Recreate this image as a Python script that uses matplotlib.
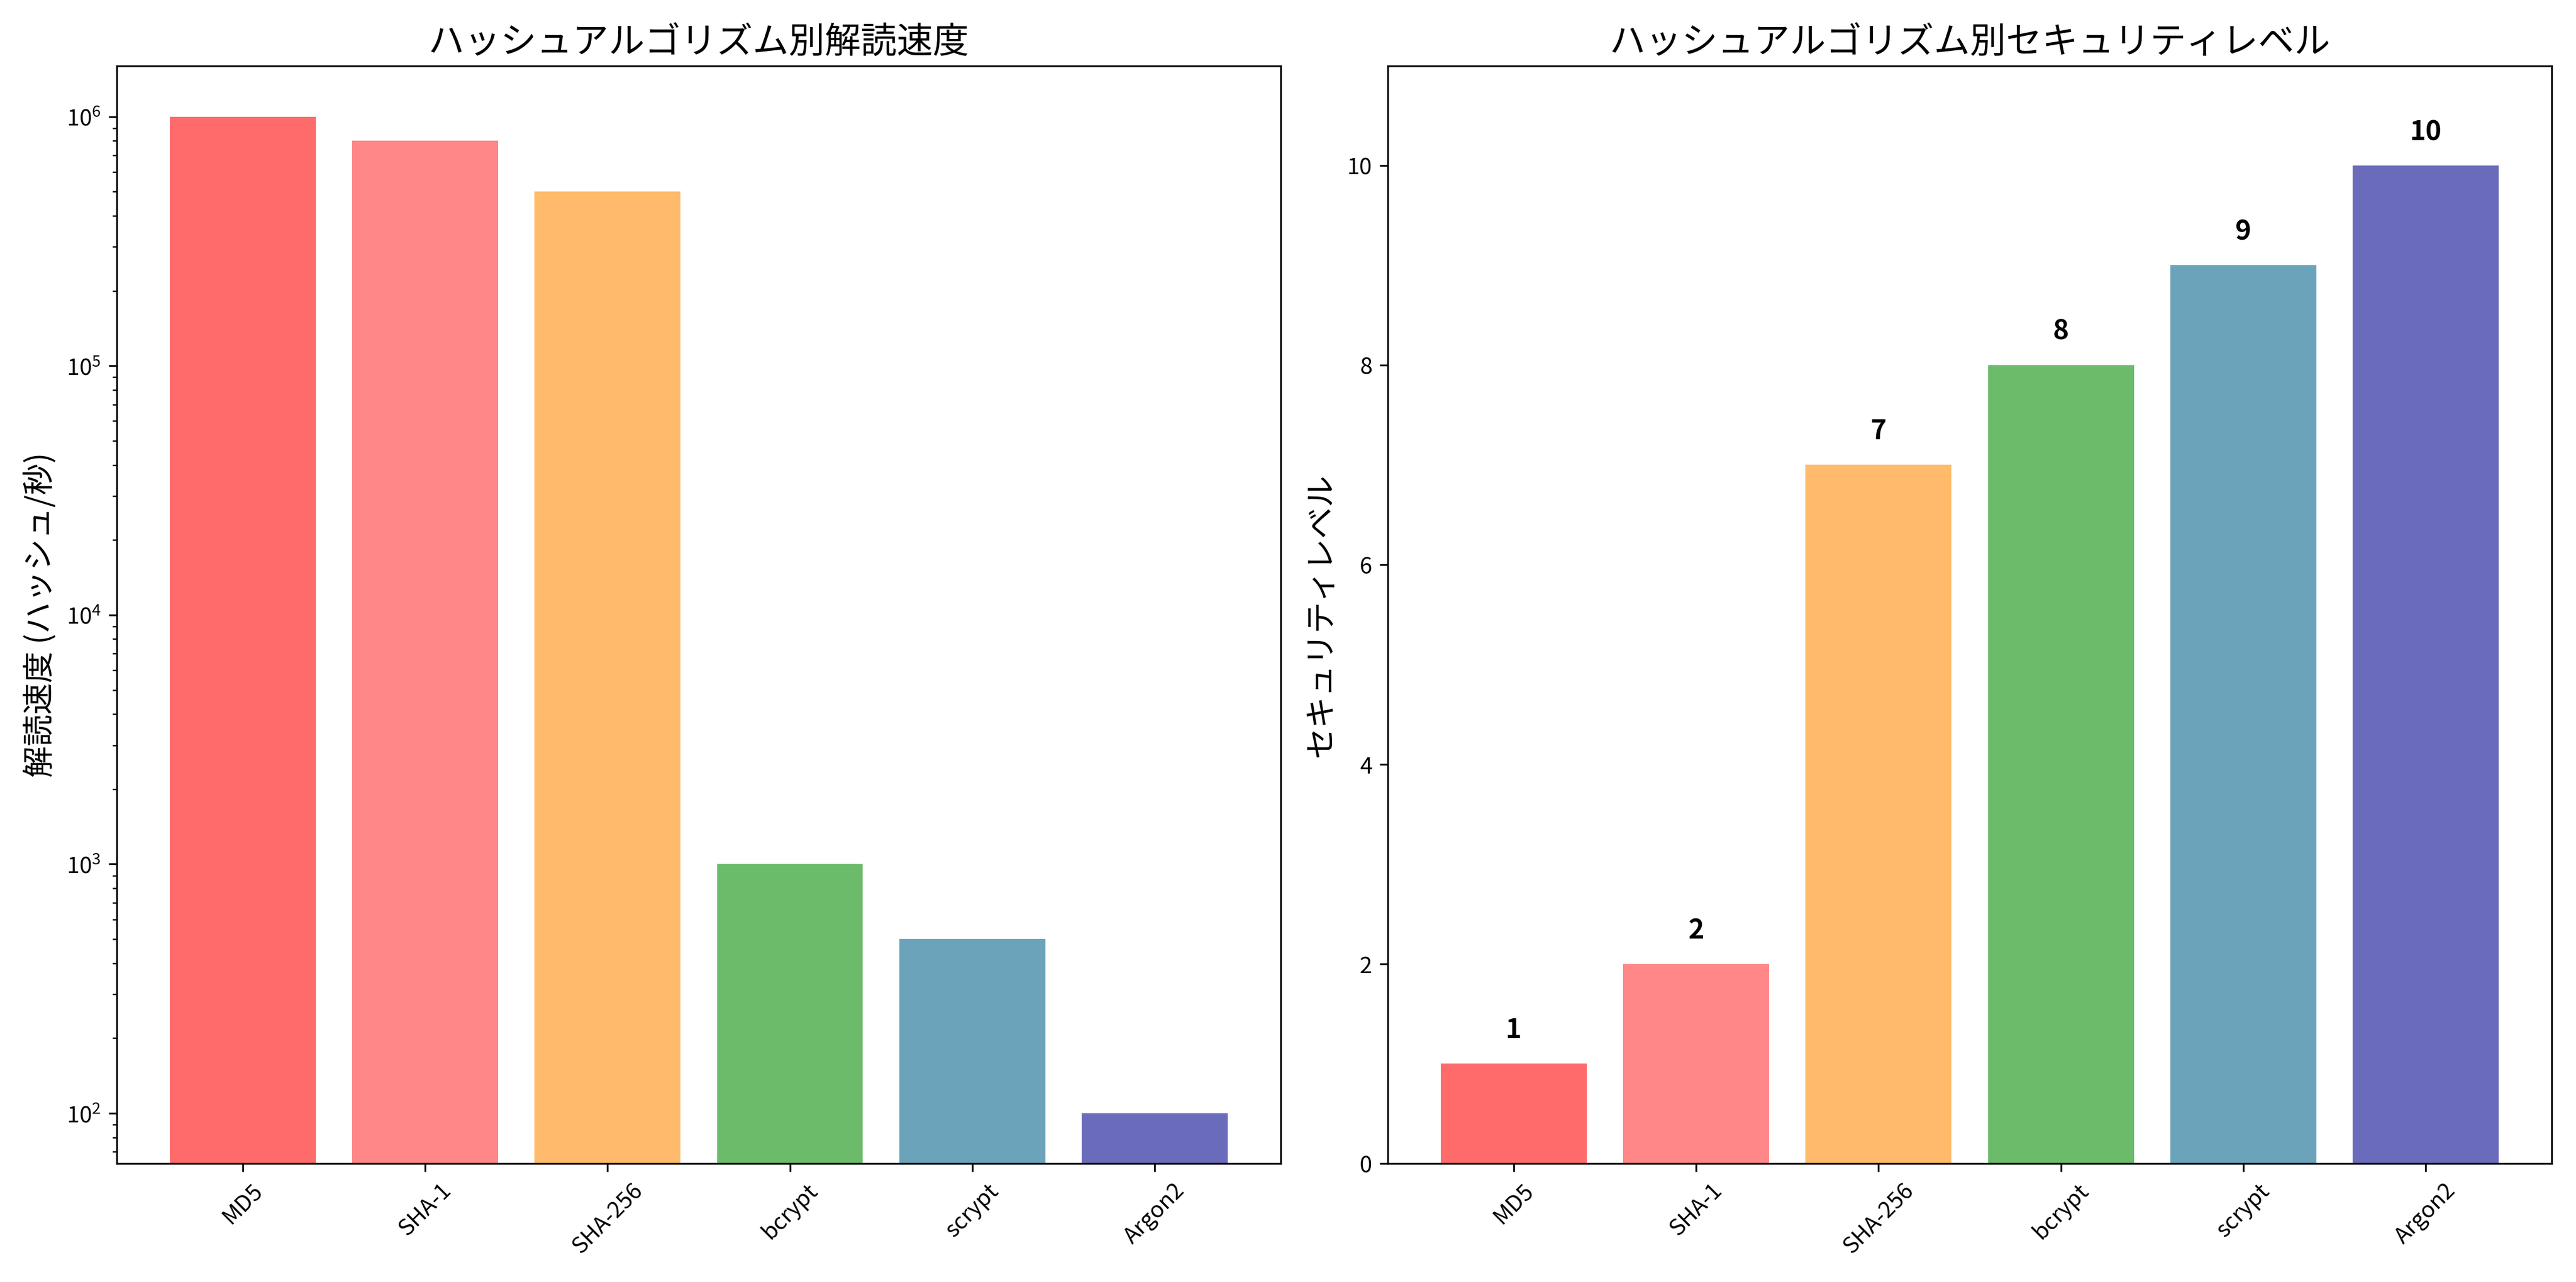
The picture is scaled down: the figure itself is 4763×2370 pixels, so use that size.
import matplotlib
matplotlib.use("Agg")
import matplotlib.pyplot as plt

plt.rcParams['font.family'] = ['Noto Sans CJK JP', 'DejaVu Sans']

algorithms = ['MD5', 'SHA-1', 'SHA-256', 'bcrypt', 'scrypt', 'Argon2']
crack_speed = [1e6, 8e5, 5e5, 1e3, 5e2, 1e2]
security_level = [1, 2, 7, 8, 9, 10]
colors = ['#FF6B6B', '#FF8787', '#FFBB6B', '#6BBB6B', '#6BA3BB', '#6B6BBB']

fig, (ax1, ax2) = plt.subplots(1, 2, figsize=(15.877, 7.903), dpi=300)

ax1.bar(algorithms, crack_speed, color=colors)
ax1.set_yscale('log')
ax1.set_ylim(63, 1.6e6)
ax1.set_title('ハッシュアルゴリズム別解読速度', fontsize=16)
ax1.set_ylabel('解読速度 (ハッシュ/秒)', fontsize=14)
ax1.tick_params(axis='x', rotation=45)

ax2.bar(algorithms, security_level, color=colors)
ax2.set_ylim(0, 11)
ax2.set_title('ハッシュアルゴリズム別セキュリティレベル', fontsize=16)
ax2.set_ylabel('セキュリティレベル', fontsize=14)
ax2.tick_params(axis='x', rotation=45)
for i, v in enumerate(security_level):
    ax2.text(i, v + 0.2, str(v), ha='center', va='bottom', fontsize=12, fontweight='bold')

plt.tight_layout()
fig.savefig('out.png', dpi=300)
